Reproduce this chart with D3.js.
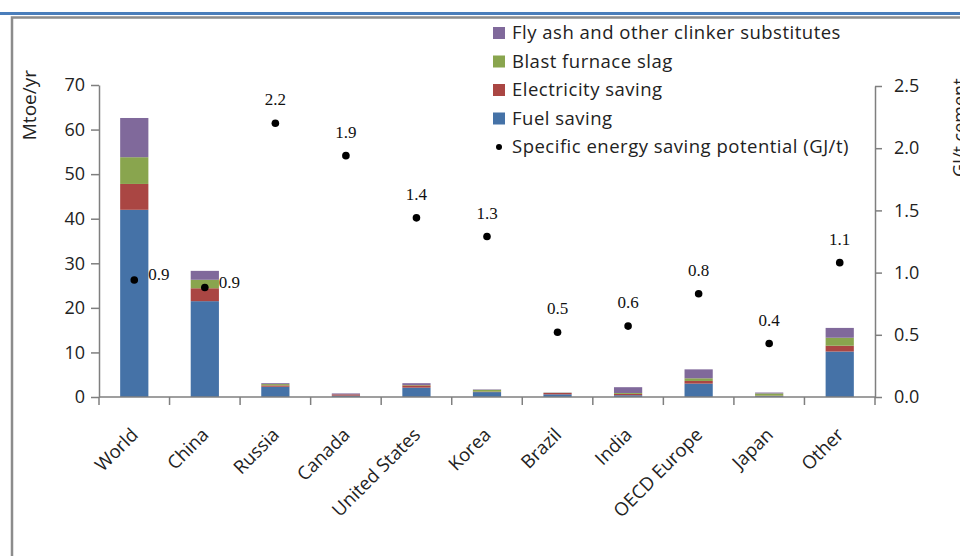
<!DOCTYPE html>
<html lang="en">

<head>
    <meta charset="UTF-8">
    <title>Cement energy saving potential</title>
    <script src="https://cdn.jsdelivr.net/npm/d3@7"></script>
    <style>
        body { margin: 0; background: #fff; }
        svg { display: block; font-family: "Open Sans", Lato, sans-serif; }
    </style>
</head>

<body>
    <svg></svg>
</body>
<script>
    const width = 960;
    const height = 556;

    // data (Mtoe/yr for the stacks, GJ/t for the dots)
    const categories = ['World', 'China', 'Russia', 'Canada', 'United States', 'Korea', 'Brazil', 'India', 'OECD Europe', 'Japan', 'Other'];
    const fuelSaving = [42.0, 21.5, 2.3, 0.3, 2.1, 1.1, 0.6, 0.4, 3.0, 0.2, 10.2];
    const electricitySaving = [5.8, 2.9, 0.3, 0.3, 0.5, 0.1, 0.3, 0.3, 0.6, 0.1, 1.3];
    const blastFurnaceSlag = [6.0, 1.9, 0.3, 0.0, 0.1, 0.4, 0.05, 0.2, 0.6, 0.5, 1.8];
    const flyAsh = [8.8, 2.0, 0.2, 0.2, 0.4, 0.1, 0.05, 1.3, 2.0, 0.2, 2.2];
    const specificSaving = [0.94, 0.88, 2.20, 1.94, 1.44, 1.29, 0.52, 0.57, 0.83, 0.43, 1.08];
    const savingLabels = ['0.9', '0.9', '2.2', '1.9', '1.4', '1.3', '0.5', '0.6', '0.8', '0.4', '1.1'];
    const leftTicks = [0, 10, 20, 30, 40, 50, 60, 70];
    const rightTicks = [0, 0.5, 1.0, 1.5, 2.0, 2.5];

    const series = [
        { name: 'Fuel saving', values: fuelSaving, color: '#4572a7' },
        { name: 'Electricity saving', values: electricitySaving, color: '#aa4643' },
        { name: 'Blast furnace slag', values: blastFurnaceSlag, color: '#89a54e' },
        { name: 'Fly ash and other clinker substitutes', values: flyAsh, color: '#80699b' }
    ];

    const svg = d3.select('svg')
        .attr('width', width)
        .attr('height', height);

    // frame of the pasted chart
    svg.append('line')
        .attr('x1', 0).attr('x2', width)
        .attr('y1', 13.5).attr('y2', 13.5)
        .attr('stroke', '#4a7ebb')
        .attr('stroke-width', 3);
    svg.append('path')
        .attr('d', `M12,${height}V17.5H${width}`)
        .attr('fill', 'none')
        .attr('stroke', '#8c8c8c')
        .attr('stroke-width', 2.5);

    // scales
    const x = d3.scaleBand()
        .domain(categories)
        .range([99, 875]);
    const yLeft = d3.scaleLinear().domain([0, 70]).range([397, 85]);
    const yRight = d3.scaleLinear().domain([0, 2.5]).range([397, 86]);

    const barWidth = x.bandwidth() * 0.4;

    // stacked bars
    const rows = categories.map((c, i) => {
        const row = { category: c };
        series.forEach(s => row[s.name] = s.values[i]);
        return row;
    });
    const stack = d3.stack().keys(series.map(s => s.name))(rows);

    svg.append('g')
        .selectAll('g')
        .data(stack)
        .join('g')
        .attr('fill', (d, i) => series[i].color)
        .selectAll('rect')
        .data(d => d)
        .join('rect')
        .attr('x', d => x(d.data.category) + (x.bandwidth() - barWidth) / 2)
        .attr('width', barWidth)
        .attr('y', d => yLeft(d[1]))
        .attr('height', d => yLeft(d[0]) - yLeft(d[1]));

    // axes
    const axisColor = '#7f7f7f';

    const gLeft = svg.append('g')
        .attr('transform', 'translate(99,0)')
        .call(d3.axisLeft(yLeft).tickValues(leftTicks).tickSize(8).tickSizeOuter(0).tickPadding(6));

    const gRight = svg.append('g')
        .attr('transform', 'translate(875,0)')
        .call(d3.axisRight(yRight).tickValues(rightTicks).tickFormat(d3.format('.1f')).tickSize(7).tickSizeOuter(0).tickPadding(12));

    [gLeft, gRight].forEach(g => {
        g.select('.domain').attr('stroke', axisColor).attr('stroke-width', 1.5);
        g.selectAll('.tick line').attr('stroke', axisColor).attr('stroke-width', 1.5);
        g.selectAll('.tick text')
            .attr('font-size', 18)
            .attr('font-family', '"Open Sans", sans-serif')
            .attr('fill', '#222');
    });

    // category axis: line with ticks between the bars
    const gBottom = svg.append('g');
    gBottom.append('line')
        .attr('x1', 99).attr('x2', 875)
        .attr('y1', 397).attr('y2', 397)
        .attr('stroke', axisColor)
        .attr('stroke-width', 1.5);
    gBottom.selectAll('.sep')
        .data(categories.map(c => x(c)).concat([x.range()[1]]))
        .join('line')
        .attr('class', 'sep')
        .attr('x1', d => d).attr('x2', d => d)
        .attr('y1', 397).attr('y2', 405)
        .attr('stroke', axisColor)
        .attr('stroke-width', 1.5);
    gBottom.selectAll('text')
        .data(categories)
        .join('text')
        .attr('transform', d => `translate(${x(d) + x.bandwidth() / 2 + 5},${436}) rotate(-45)`)
        .attr('text-anchor', 'end')
        .attr('font-size', 18.5)
        .attr('fill', '#222')
        .text(d => d);

    // axis titles
    svg.append('text')
        .attr('transform', 'translate(36,70) rotate(-90)')
        .attr('text-anchor', 'end')
        .attr('font-size', 19)
        .attr('fill', '#222')
        .text('Mtoe/yr');
    svg.append('text')
        .attr('transform', 'translate(966,177) rotate(-90)')
        .attr('text-anchor', 'start')
        .attr('font-size', 18)
        .attr('fill', '#222')
        .text('GJ/t cement');

    // specific energy saving dots and labels
    const cx = d => x(d) + x.bandwidth() / 2;
    svg.append('g')
        .selectAll('circle')
        .data(categories)
        .join('circle')
        .attr('cx', cx)
        .attr('cy', (d, i) => yRight(specificSaving[i]))
        .attr('r', 3.8)
        .attr('fill', '#000');

    svg.append('g')
        .selectAll('text')
        .data(categories)
        .join('text')
        .attr('x', (d, i) => i < 2 ? cx(d) + 14 : cx(d))
        .attr('y', (d, i) => i < 2 ? yRight(specificSaving[i]) : yRight(specificSaving[i]) - 18)
        .attr('text-anchor', (d, i) => i < 2 ? 'start' : 'middle')
        .attr('font-family', '"Liberation Serif", serif')
        .attr('font-size', 17)
        .attr('fill', '#111')
        .text((d, i) => savingLabels[i]);

    // legend
    const legendItems = series.slice().reverse().map(s => ({ name: s.name, color: s.color, type: 'rect' }))
        .concat([{ name: 'Specific energy saving potential (GJ/t)', color: '#000', type: 'dot' }]);

    const legend = svg.append('g')
        .selectAll('g')
        .data(legendItems)
        .join('g')
        .attr('transform', (d, i) => `translate(493,${33 + i * 28.5})`);

    legend.filter(d => d.type === 'rect')
        .append('rect')
        .attr('y', -6)
        .attr('width', 12)
        .attr('height', 12)
        .attr('fill', d => d.color);
    legend.filter(d => d.type === 'dot')
        .append('circle')
        .attr('cx', 6)
        .attr('r', 3)
        .attr('fill', '#000');
    legend.append('text')
        .attr('x', 19)
        .attr('dy', '0.35em')
        .attr('font-size', 18.5)
        .attr('letter-spacing', 0.5)
        .attr('fill', '#222')
        .text(d => d.name);
</script>

</html>
